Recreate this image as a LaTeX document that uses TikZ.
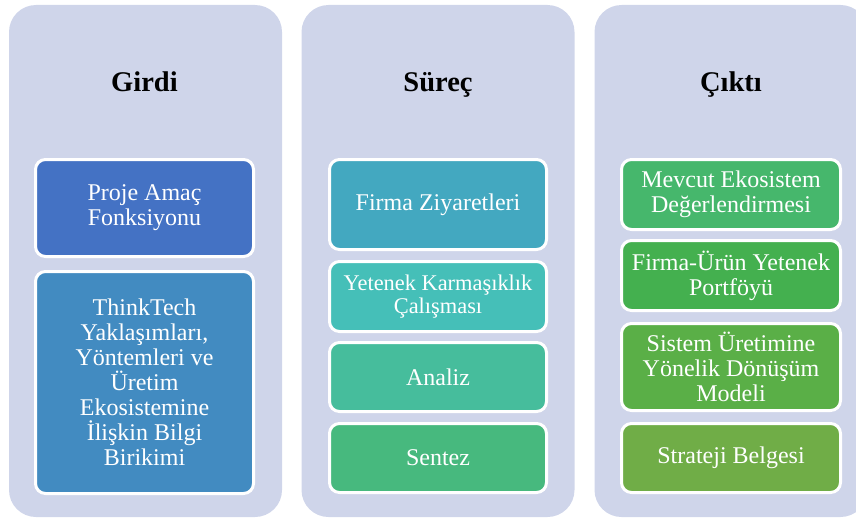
\documentclass[tikz,border=0pt]{standalone}
\usepackage{fontspec}
\setmainfont{Liberation Serif}
\begin{document}
\begin{tikzpicture}[x=1pt,y=-1pt,
  panel/.style={fill=lav, rounded corners=27pt, inner sep=0pt, minimum width=273pt, minimum height=512pt},
  heading/.style={font=\fontsize{28.5}{30}\selectfont\bfseries, anchor=base, inner sep=0pt},
  box/.style={draw=white, line width=3pt, rounded corners=10pt, text=white, align=center,
    inner sep=2pt, font=\fontsize{24}{25}\selectfont}
]
\definecolor{lav}{HTML}{CFD5EA}
\definecolor{cA}{HTML}{4472C4}
\definecolor{cB}{HTML}{428BC1}
\definecolor{cC}{HTML}{43A8C0}
\definecolor{cD}{HTML}{45BFB8}
\definecolor{cE}{HTML}{46BD9C}
\definecolor{cF}{HTML}{47B97E}
\definecolor{cG}{HTML}{46B76C}
\definecolor{cH}{HTML}{44B04F}
\definecolor{cI}{HTML}{5AAF47}
\definecolor{cJ}{HTML}{70AD47}
\useasboundingbox (0,0) rectangle (856,519);
\clip (0,0) rectangle (856,519);

% column panels
\node[panel] (pin)  at (145.5,261) {};
\node[panel] (proc) at (438,261) {};
\node[panel] (pout) at (731,261) {};

% headings
\node[heading] (hin)  at (144.5,92) {Girdi};
\node[heading] (hproc) at (438,92) {Süreç};
\node[heading] (hout) at (731,92) {Çıktı};

% input column
\node[box, fill=cA, minimum width=218pt, minimum height=97pt] (i1) at (144.5,208) {Proje Amaç\\Fonksiyonu};
\node[box, fill=cB, minimum width=218pt, minimum height=222pt] (i2) at (144.5,382.5)
  {ThinkTech\\Yaklaşımları,\\Yöntemleri ve\\Üretim\\Ekosistemine\\İlişkin Bilgi\\Birikimi};

% process column
\node[box, fill=cC, minimum width=217pt, minimum height=90pt] (p1) at (438,204.5) {Firma Ziyaretleri};
\node[box, fill=cD, minimum width=217pt, minimum height=70pt, font=\fontsize{22.4}{23}\selectfont] (p2) at (438,296.5) {Yetenek Karmaşıklık\\Çalışması};
\node[box, fill=cE, minimum width=217pt, minimum height=69pt] (p3) at (438,377) {Analiz};
\node[box, fill=cF, minimum width=217pt, minimum height=69pt] (p4) at (438,458) {Sentez};

% output column
\node[box, fill=cG, minimum width=219pt, minimum height=70pt] (o1) at (731,194.5) {Mevcut Ekosistem\\Değerlendirmesi};
\node[box, fill=cH, minimum width=219pt, minimum height=70pt] (o2) at (731,275.5) {Firma-Ürün Yetenek\\Portföyü};
\node[box, fill=cI, minimum width=219pt, minimum height=87pt] (o3) at (731,367) {Sistem Üretimine\\Yönelik Dönüşüm\\Modeli};
\node[box, fill=cJ, minimum width=219pt, minimum height=69pt] (o4) at (731,458) {Strateji Belgesi};
\end{tikzpicture}
\end{document}
